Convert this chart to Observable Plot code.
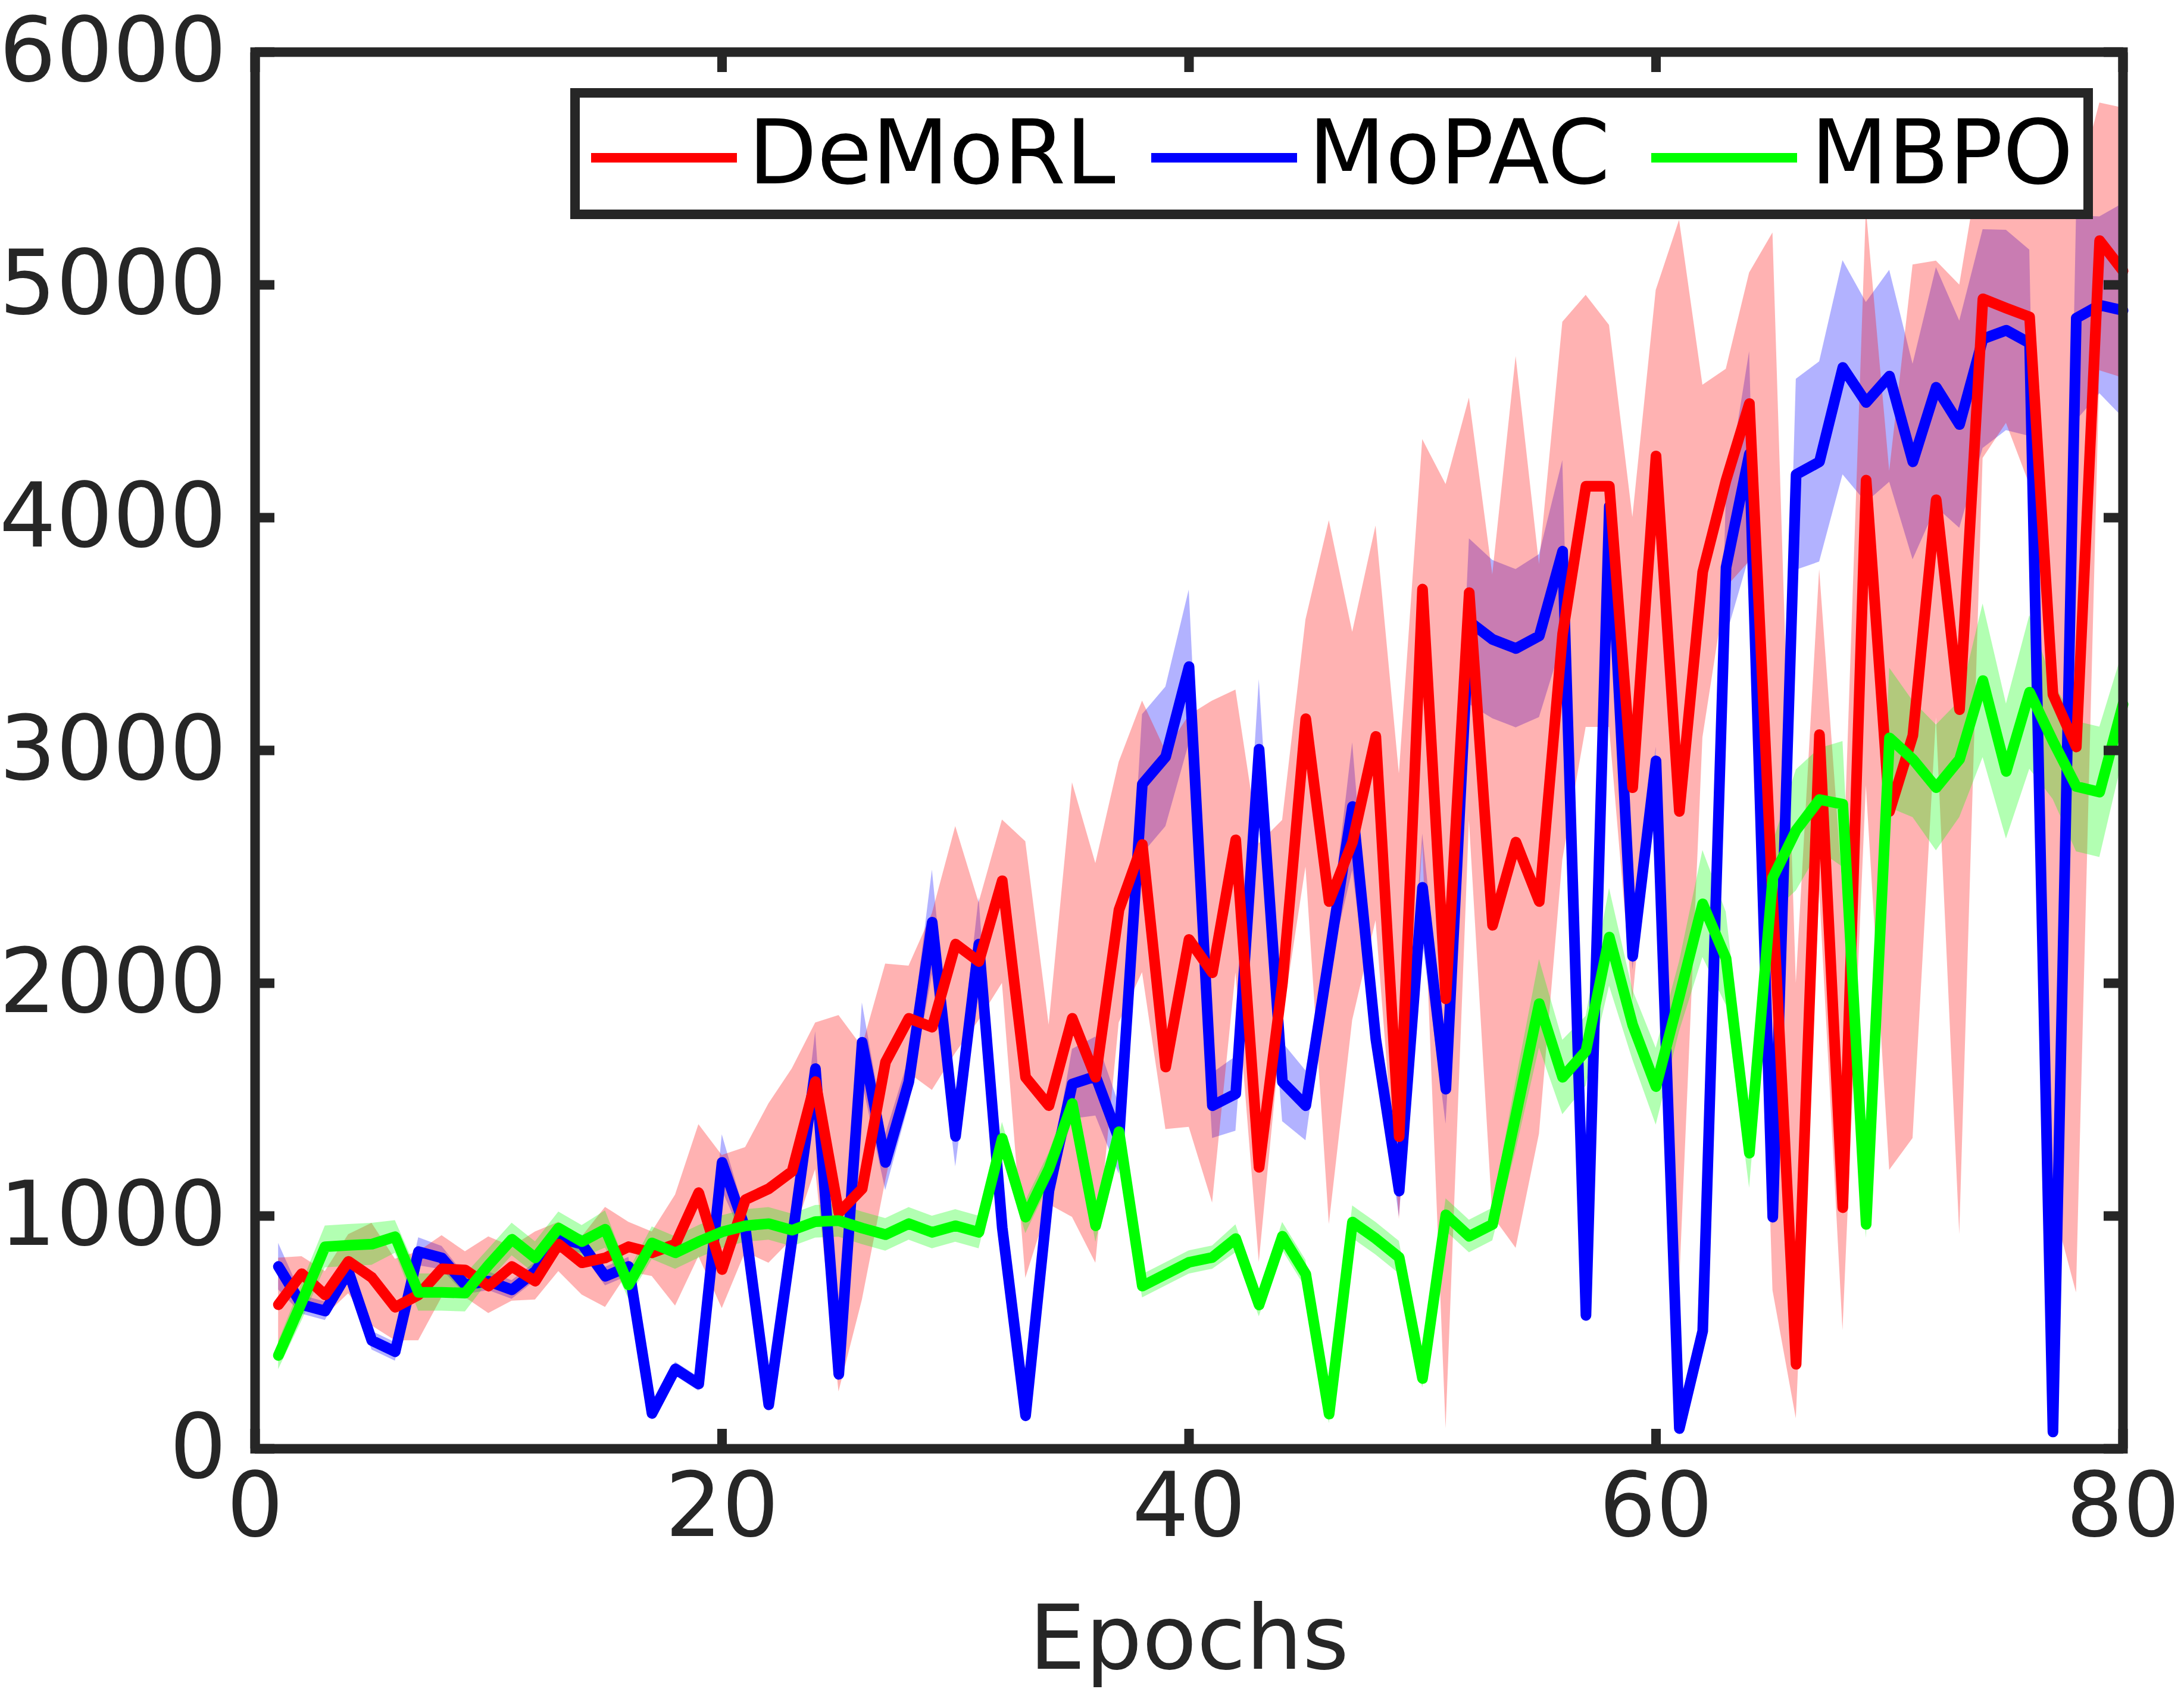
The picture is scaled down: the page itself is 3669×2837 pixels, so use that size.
<!DOCTYPE html>
<html>
<head>
<meta charset="utf-8">
<script src="https://cdn.jsdelivr.net/npm/d3@7"></script>
<script src="https://cdn.jsdelivr.net/npm/@observablehq/plot@0.6"></script>
<style>
  html, body { margin: 0; padding: 0; background: white; }
  #wrap { position: relative; width: 3669px; height: 2837px; font-family: "DejaVu Sans", sans-serif; }
  #legend { position: absolute; left: 958px; top: 148px; width: 2526px; height: 188px; border: 16px solid #262626; background: white; }
  .sw { position: absolute; height: 16px; top: 93px; }
  .lt { position: absolute; font-size: 150px; line-height: 150px; color: #000; top: 17px; white-space: nowrap; }
</style>
</head>
<body>
<div id="wrap">
  <div id="chart"></div>
  <div id="legend"></div>
</div>
<script>
const epochs = d3.range(1, 81);
const seriesNames = ["DeMoRL", "MoPAC", "MBPO"];
const seriesColors = ["#ff0000", "#0000ff", "#00ff00"];
const xTicks = [0, 20, 40, 60, 80];
const yTicks = [0, 1000, 2000, 3000, 4000, 5000, 6000];

const demorl = [619,752,661,805,736,608,661,773,768,699, 783,720,879,799,820,868,842,879,1100,770,
  1070,1117,1192,1577,1014,1117,1661,1849,1811,2168, 2093,2440,1596,1474,1849,1596,2315,2596,1640,2188,
  2045,2616,1209,2000,3136,2351,2606,3060,1341,3693, 1933,3678,2249,2606,2351,3500,4135,4135,2840,4265,
  2738,3767,4161,4490,2350,363,3068,1036,4161,2738, 3064,4077,3175,4940,4900,4862,3240,3015,5190,5060];
const demorlLo = [450,635,571,667,529,465,465,651,650,582, 635,640,762,661,608,760,741,614,826,603,
  845,798,900,1200,245,639,1150,1614,1540,1700, 1840,2000,733,1050,995,798,1830,2046,1372,1382,
  1056,2045,801,1841,2500,964,1841,2269,985,2600, 87,2700,1000,862,1352,2530,3100,3100,1923,3000,
  699,3055,3700,3812,680,130,2400,508,2849,1197, 1334,3140,921,4255,4406,4142,1049,671,4632,4600];
const demorlHi = [820,826,762,921,969,815,847,916,847,911, 868,932,974,911,1038,974,932,1091,1393,1261,
  1295,1483,1633,1830,1862,1727,2083,2074,2300,2674, 2346,2702,2609,1821,2862,2515,2950,3213,2997,3151,
  3213,3260,2600,2700,3562,3988,3508,3965,2900,4336, 4143,4515,3755,4693,3800,4840,4956,4827,4002,4977,
  5278,4570,4638,5052,5224,2000,3778,2400,5327,4200, 5086,5103,5000,5600,5500,5600,5400,5400,5782,5760];

const mopac = [783,619,592,762,465,417,847,820,704,720, 683,762,905,879,741,783,152,343,278,1230,
  945,189,900,1633,320,1746,1230,1577,2262,1342, 2168,950,142,1108,1567,1600,1330,2855,2973,3360,
  1474,1525,3005,1576,1474,2116,2759,1760,1107,2412, 1545,3554,3477,3438,3492,3856,573,4049,2116,2955,
  87,506,3786,4274,995,4185,4240,4645,4495,4608, 4240,4560,4400,4768,4805,4750,72,4857,4913,4890];
const mopacStd = [100,40,40,40,40,40,60,50,40,40, 40,40,40,40,40,40,30,30,30,120,
  60,30,40,160,30,170,120,100,225,130, 200,40,30,40,150,170,150,300,300,330,
  140,160,300,170,150,60,275,60,110,230, 150,356,340,340,350,390,30,100,60,60,
  30,60,300,440,40,410,430,460,430,455, 420,515,445,470,430,400,30,440,380,460];

const mbpo = [401,630,868,874,879,911,672,672,669,789, 900,820,948,890,943,704,884,842,890,932,
  958,967,939,976,980,948,920,967,930,958, 930,1333,995,1202,1483,958,1362,699,750,801,
  822,903,618,913,750,149,974,903,822,302, 1005,913,964,1433,1912,1596,1709,2198,1821,1556,
  1943,2341,2106,1270,2453,2657,2789,2769,964,3054, 2962,2840,2962,3300,2910,3250,3040,2845,2821,3198];
const mbpoStd = [60,80,90,90,90,70,80,80,80,70, 70,70,70,70,80,60,70,70,70,70,
  70,70,70,70,70,70,70,70,70,70, 70,70,70,70,70,70,70,50,50,50,
  50,60,50,60,60,40,70,70,70,40, 70,70,70,150,190,160,150,210,150,165,
  150,230,200,150,150,260,220,270,60,300, 250,270,250,330,290,330,250,280,280,230];

const deRows = epochs.map((e, i) => ({epoch: e, mean: demorl[i], lo: demorlLo[i], hi: demorlHi[i]}));
const moRows = epochs.map((e, i) => ({epoch: e, mean: mopac[i], lo: mopac[i] - mopacStd[i], hi: mopac[i] + mopacStd[i]}));
const mbRows = epochs.map((e, i) => ({epoch: e, mean: mbpo[i], lo: mbpo[i] - mbpoStd[i], hi: mbpo[i] + mbpoStd[i]}));

const ink = "#262626";
const fmt = (d) => String(d);
const lineOpts = (c) => ({x: "epoch", y: "mean", stroke: c, strokeWidth: 18, strokeLinejoin: "round", strokeLinecap: "round"});

const chart = Plot.plot({
  width: 3669,
  height: 2837,
  marginLeft: 428,
  marginRight: 103,
  marginTop: 87,
  marginBottom: 404,
  x: {domain: [0, 80]},
  y: {domain: [0, 6000]},
  style: {fontFamily: "DejaVu Sans", fontSize: "150px", color: ink, background: "white"},
  marks: [
    Plot.areaY(moRows, {x: "epoch", y1: "lo", y2: "hi", fill: seriesColors[1], fillOpacity: 0.3}),
    Plot.areaY(deRows, {x: "epoch", y1: "lo", y2: "hi", fill: seriesColors[0], fillOpacity: 0.3}),
    Plot.areaY(mbRows, {x: "epoch", y1: "lo", y2: "hi", fill: seriesColors[2], fillOpacity: 0.3}),
    Plot.lineY(moRows, lineOpts(seriesColors[1])),
    Plot.lineY(deRows, lineOpts(seriesColors[0])),
    Plot.lineY(mbRows, lineOpts(seriesColors[2])),
    Plot.frame({stroke: ink, strokeWidth: 16}),
    Plot.axisX({anchor: "bottom", ticks: xTicks, tickSize: -33, strokeWidth: 16, stroke: ink, text: null, label: null}),
    Plot.axisX({anchor: "top", ticks: xTicks, tickSize: -33, strokeWidth: 16, stroke: ink, text: null, label: null}),
    Plot.axisY({anchor: "left", ticks: yTicks, tickSize: -33, strokeWidth: 16, stroke: ink, text: null, label: null}),
    Plot.axisY({anchor: "right", ticks: yTicks, tickSize: -33, strokeWidth: 16, stroke: ink, text: null, label: null}),
    Plot.axisX({anchor: "bottom", ticks: xTicks, tickFormat: fmt, tickSize: 0, tickPadding: 40, fontSize: 150, fill: ink, label: null}),
    Plot.axisY({anchor: "left", ticks: yTicks, tickFormat: fmt, tickSize: 0, tickPadding: 48, fontSize: 150, fill: ink, label: null}),
    Plot.text(["Epochs"], {frameAnchor: "bottom", dy: 263, lineAnchor: "top", fontSize: 150, fill: ink})
  ]
});
document.getElementById("chart").appendChild(chart);

// legend (inside plot, upper right)
const legend = document.getElementById("legend");
const legendLayout = [
  {sw: 19, txt: 283},
  {sw: 960, txt: 1224},
  {sw: 1800, txt: 2068}
];
seriesNames.forEach((name, i) => {
  const sw = document.createElement("div");
  sw.className = "sw";
  sw.style.left = legendLayout[i].sw + "px";
  sw.style.width = "245px";
  sw.style.background = seriesColors[i];
  legend.appendChild(sw);
  const t = document.createElement("div");
  t.className = "lt";
  t.style.left = legendLayout[i].txt + "px";
  t.textContent = name;
  legend.appendChild(t);
});
</script>
</body>
</html>
